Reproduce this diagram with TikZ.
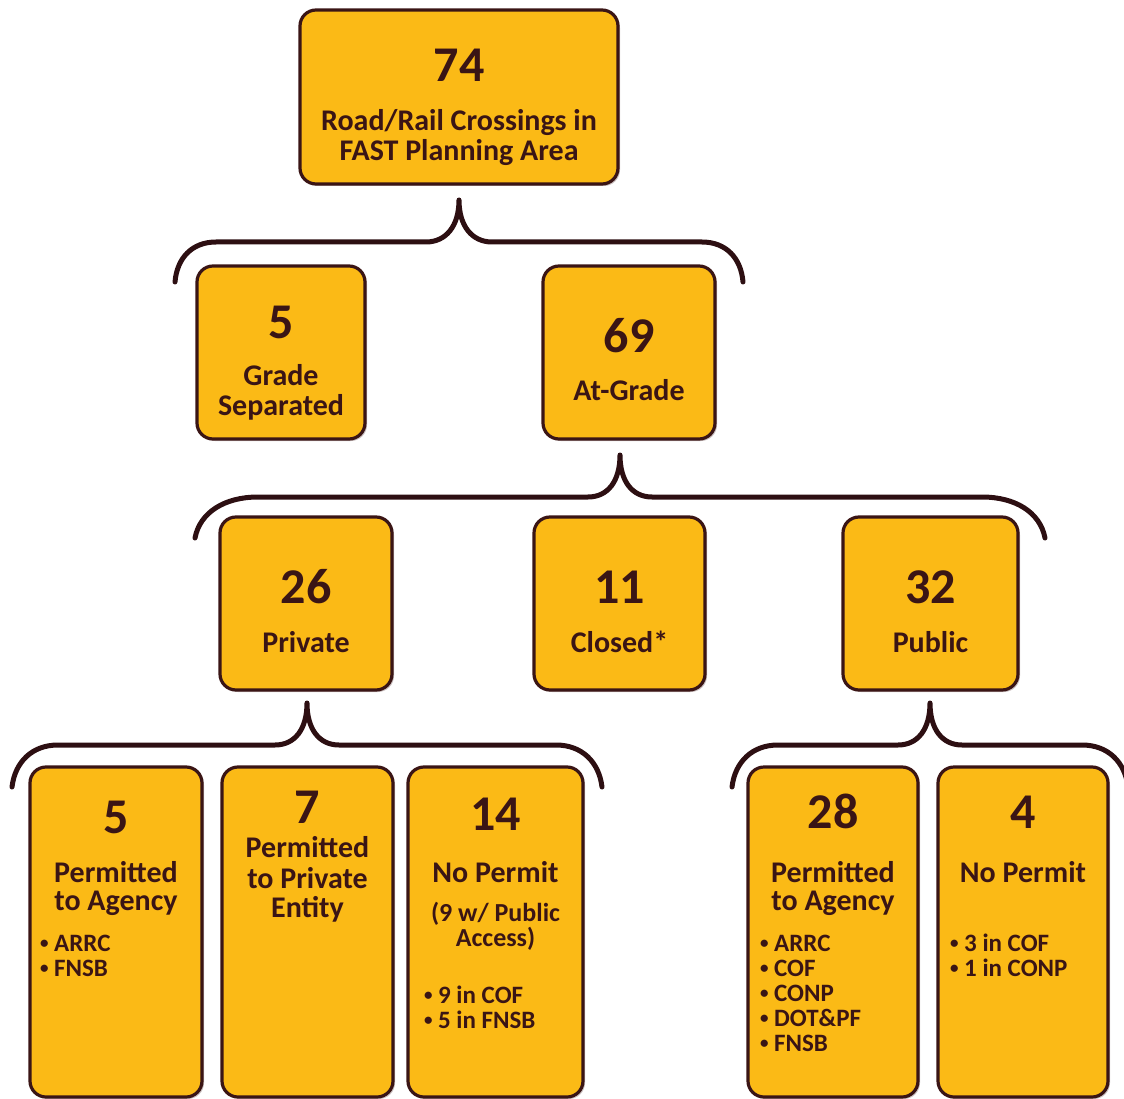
\documentclass[tikz,border=0pt]{standalone}
\usepackage{fontspec}
\setmainfont{Carlito}
\usetikzlibrary{shadows}
\definecolor{boxfill}{RGB}{251,186,22}
\definecolor{ink}{RGB}{58,21,21}
\definecolor{bracecol}{RGB}{45,15,18}
% small round bullet for the lists
\newcommand{\listdot}{\raisebox{0.12em}{\fontsize{17}{17}\selectfont•}\hspace{0.22em}}

\begin{document}
\begin{tikzpicture}[x=1pt,y=-1pt,
  card/.style={draw=ink, fill=boxfill, line width=3.2pt, rounded corners=16pt,
    inner sep=0pt, drop shadow={shadow xshift=2pt, shadow yshift=-2pt, opacity=.25, fill=ink}},
  num/.style={anchor=base, inner sep=0pt, text=ink, font=\fontsize{50}{50}\selectfont\bfseries},
  lab/.style={anchor=base, inner sep=0pt, text=ink, font=\fontsize{30}{30}\selectfont\bfseries},
  sub/.style={anchor=base, inner sep=0pt, text=ink, font=\fontsize{26}{26}\selectfont\bfseries},
  item/.style={anchor=base west, inner sep=0pt, text=ink, font=\fontsize{25}{25}\selectfont\bfseries},
  brace/.style={draw=bracecol, line width=5pt, line cap=round, line join=round}]

\useasboundingbox (0,0) rectangle (1124,1099);
\clip (0,0) rectangle (1124,1099);

% ---- boxes ----
\node[card, minimum width=318pt, minimum height=174pt] (b74) at (459,97) {};
\node[card, minimum width=168pt, minimum height=173pt] (b5) at (281,352.5) {};
\node[card, minimum width=172pt, minimum height=173pt] (b69) at (629,352.5) {};
\node[card, minimum width=172pt, minimum height=173pt] (b26) at (306,603.5) {};
\node[card, minimum width=171pt, minimum height=173pt] (b11) at (619.5,603.5) {};
\node[card, minimum width=175pt, minimum height=173pt] (b32) at (930.5,603.5) {};
\node[card, minimum width=172pt, minimum height=330pt] (b5a) at (116,932) {};
\node[card, minimum width=171pt, minimum height=330pt] (b7) at (307.5,932) {};
\node[card, minimum width=175pt, minimum height=330pt] (b14) at (495.5,932) {};
\node[card, minimum width=170pt, minimum height=330pt] (b28) at (833,932) {};
\node[card, minimum width=170pt, minimum height=330pt] (b4) at (1023,932) {};

% ---- braces ----
\draw[brace] (175,282) .. controls (177,258) and (192,242) .. (216,242) -- (426,242)
  .. controls (446,242) and (459,226) .. (459,200)
  .. controls (459,226) and (472,242) .. (492,242) -- (702,242)
  .. controls (726,242) and (741,258) .. (743,282);
\draw[brace] (195,538) .. controls (200,512) and (225,497) .. (258,497) -- (588,497)
  .. controls (608,497) and (620,481) .. (620,455)
  .. controls (620,481) and (632,497) .. (652,497) -- (982,497)
  .. controls (1015,497) and (1040,512) .. (1045,538);
\draw[brace] (12,787) .. controls (15,762) and (32,745) .. (58,745) -- (275,745)
  .. controls (295,745) and (307,729) .. (307,703)
  .. controls (307,729) and (319,745) .. (339,745) -- (556,745)
  .. controls (582,745) and (599,762) .. (602,787);
\draw[brace] (732,787) .. controls (735,762) and (752,745) .. (778,745) -- (898,745)
  .. controls (918,745) and (930,729) .. (930,703)
  .. controls (930,729) and (942,745) .. (962,745) -- (1082,745)
  .. controls (1108,745) and (1125,762) .. (1128,787);

% ---- texts: top ----
\node[num] (n74) at (459,82) {74};
\node[lab] (t74a) at (459,131) {Road/Rail Crossings in};
\node[lab] (t74b) at (459,161) {FAST Planning Area};

% ---- second row ----
\node[num] (n5) at (281,338) {5};
\node[lab] (t5a) at (281,385) {Grade};
\node[lab] (t5b) at (281,415) {Separated};
\node[num] (n69) at (629,352) {69};
\node[lab] (t69) at (629,400) {At-Grade};

% ---- third row ----
\node[num] (n26) at (306,603) {26};
\node[lab] (t26) at (306,652) {Private};
\node[num] (n11) at (619.5,603) {11};
\node[lab] (t11) at (619.5,652) {Closed*};
\node[num] (n32) at (930.5,603) {32};
\node[lab] (t32) at (930.5,652) {Public};

% ---- fourth row, private ----
\node[num] (n5a) at (116,833) {5};
\node[lab] (t5aa) at (116,882) {Permitted};
\node[lab] (t5ab) at (116,910) {to Agency};
\node[item] (i5a1) at (40,951) {\listdot ARRC};
\node[item] (i5a2) at (40,976) {\listdot FNSB};

\node[num] (n7) at (307.5,823) {7};
\node[lab] (t7a) at (307.5,857) {Permitted};
\node[lab] (t7b) at (307.5,888) {to Private};
\node[lab] (t7c) at (307.5,917) {Entity};

\node[num] (n14) at (495.5,830) {14};
\node[lab] (t14a) at (495.5,882) {No Permit};
\node[sub] (t14b) at (495.5,921) {(9 w/ Public};
\node[sub] (t14c) at (495.5,946) {Access)};
\node[item] (i14a) at (424,1003) {\listdot 9 in COF};
\node[item] (i14b) at (424,1028) {\listdot 5 in FNSB};

% ---- fourth row, public ----
\node[num] (n28) at (833,828) {28};
\node[lab] (t28a) at (833,882) {Permitted};
\node[lab] (t28b) at (833,910) {to Agency};
\node[item] (i28a) at (760,951) {\listdot ARRC};
\node[item] (i28b) at (760,976) {\listdot COF};
\node[item] (i28c) at (760,1001) {\listdot CONP};
\node[item] (i28d) at (760,1026) {\listdot DOT\&PF};
\node[item] (i28e) at (760,1051) {\listdot FNSB};

\node[num] (n4) at (1023,828) {4};
\node[lab] (t4a) at (1023,882) {No Permit};
\node[item] (i4a) at (950,951) {\listdot 3 in COF};
\node[item] (i4b) at (950,976) {\listdot 1 in CONP};
\end{tikzpicture}
\end{document}
